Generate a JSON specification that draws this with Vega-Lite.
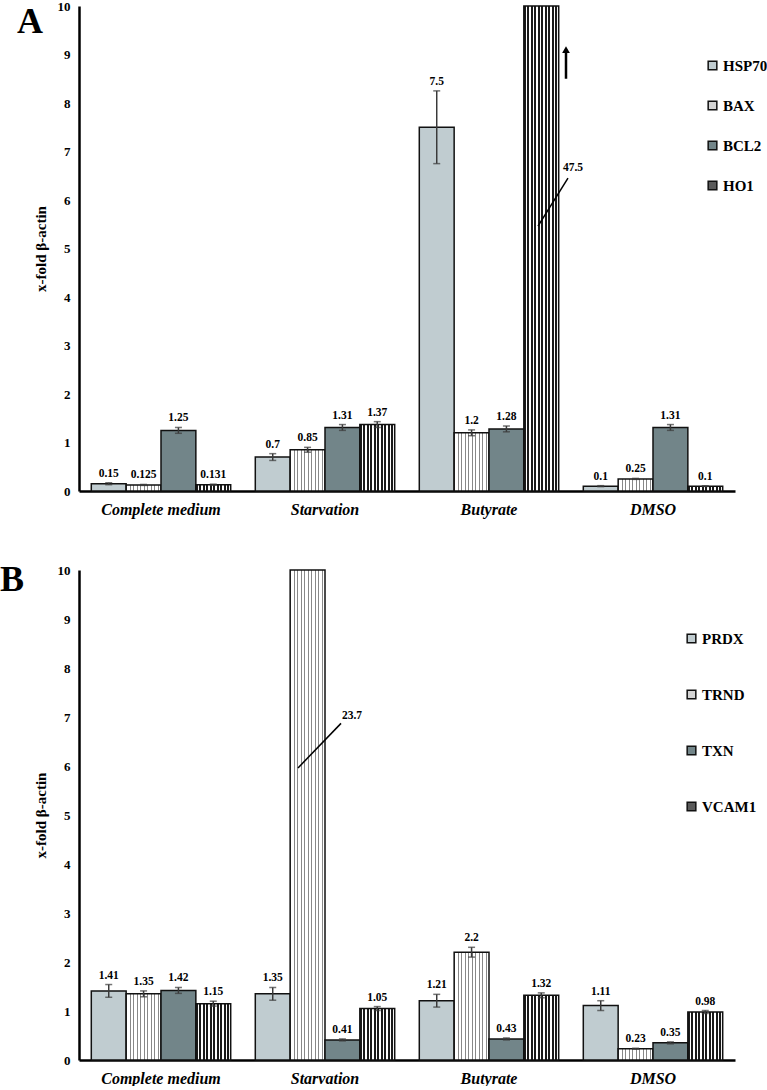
{
  "$schema": "https://vega.github.io/schema/vega-lite/v6.json",
  "background": "white",
  "padding": {"left": 0, "top": 0, "right": 0, "bottom": 0},
  "spacing": 45,
  "config": {
    "view": {"stroke": null},
    "font": "Liberation Serif",
    "axisX": {"title": null, "labelAngle": 0, "ticks": false, "grid": false, "domainColor": "#000", "domainWidth": 2.5, "labelFont": "Liberation Serif", "labelFontWeight": "bold", "labelFontStyle": "italic", "labelFontSize": 16, "labelColor": "#000", "labelPadding": 10},
    "axisY": {"values": [0,1,2,3,4,5,6,7,8,9,10], "ticks": false, "grid": false, "domainColor": "#000", "domainWidth": 2.5, "labelFont": "Liberation Serif", "labelFontWeight": "bold", "labelFontSize": 13, "labelColor": "#000", "labelPadding": 9, "titleFont": "Liberation Serif", "titleFontSize": 15, "titleFontWeight": "bold", "titleColor": "#000", "titlePadding": 9},
    "legend": {"orient": "none", "title": null, "symbolType": "square", "symbolSize": 75, "symbolStrokeColor": "#111", "symbolStrokeWidth": 1.5, "labelFont": "Liberation Serif", "labelFontWeight": "bold", "labelFontSize": 15, "labelColor": "#000", "labelOffset": 3},
    "title": {"anchor": "start", "frame": "group", "fontSize": 36, "font": "Liberation Serif", "fontWeight": "bold", "color": "#000", "offset": 0}
  },
  "resolve": {"scale": {"x": "independent", "y": "independent", "xOffset": "independent", "fill": "independent"}, "legend": {"fill": "independent"}},
  "datasets": {
    "barsA": [
      {"cat": "Complete medium", "gene": "HSP70", "val": 0.15, "lo": 0.13, "hi": 0.17, "lab": "0.15"},
      {"cat": "Complete medium", "gene": "BAX", "val": 0.125, "lo": 0.115, "hi": 0.135, "lab": "0.125"},
      {"cat": "Complete medium", "gene": "BCL2", "val": 1.25, "lo": 1.19, "hi": 1.31, "lab": "1.25"},
      {"cat": "Complete medium", "gene": "HO1", "val": 0.131, "lo": 0.121, "hi": 0.141, "lab": "0.131"},
      {"cat": "Starvation", "gene": "HSP70", "val": 0.7, "lo": 0.63, "hi": 0.77, "lab": "0.7"},
      {"cat": "Starvation", "gene": "BAX", "val": 0.85, "lo": 0.8, "hi": 0.9, "lab": "0.85"},
      {"cat": "Starvation", "gene": "BCL2", "val": 1.31, "lo": 1.25, "hi": 1.37, "lab": "1.31"},
      {"cat": "Starvation", "gene": "HO1", "val": 1.37, "lo": 1.31, "hi": 1.43, "lab": "1.37"},
      {"cat": "Butyrate", "gene": "HSP70", "val": 7.5, "lo": 6.75, "hi": 8.25, "lab": "7.5"},
      {"cat": "Butyrate", "gene": "BAX", "val": 1.2, "lo": 1.14, "hi": 1.26, "lab": "1.2"},
      {"cat": "Butyrate", "gene": "BCL2", "val": 1.28, "lo": 1.22, "hi": 1.34, "lab": "1.28"},
      {"cat": "Butyrate", "gene": "HO1", "val": 47.5, "lo": null, "hi": null, "lab": null},
      {"cat": "DMSO", "gene": "HSP70", "val": 0.1, "lo": 0.09, "hi": 0.11, "lab": "0.1"},
      {"cat": "DMSO", "gene": "BAX", "val": 0.25, "lo": 0.24, "hi": 0.26, "lab": "0.25"},
      {"cat": "DMSO", "gene": "BCL2", "val": 1.31, "lo": 1.25, "hi": 1.37, "lab": "1.31"},
      {"cat": "DMSO", "gene": "HO1", "val": 0.1, "lo": 0.095, "hi": 0.105, "lab": "0.1"}
    ],
    "annA": [
      {"cat": "Butyrate", "y1": 6.45, "y2": 5.46, "ty": 6.65, "lab": "47.5", "aLo": 8.5, "aHi": 9.1}
    ],
    "barsB": [
      {"cat": "Complete medium", "gene": "PRDX", "val": 1.41, "lo": 1.28, "hi": 1.54, "lab": "1.41"},
      {"cat": "Complete medium", "gene": "TRND", "val": 1.35, "lo": 1.29, "hi": 1.41, "lab": "1.35"},
      {"cat": "Complete medium", "gene": "TXN", "val": 1.42, "lo": 1.36, "hi": 1.48, "lab": "1.42"},
      {"cat": "Complete medium", "gene": "VCAM1", "val": 1.15, "lo": 1.1, "hi": 1.2, "lab": "1.15"},
      {"cat": "Starvation", "gene": "PRDX", "val": 1.35, "lo": 1.22, "hi": 1.48, "lab": "1.35"},
      {"cat": "Starvation", "gene": "TRND", "val": 23.7, "lo": null, "hi": null, "lab": null},
      {"cat": "Starvation", "gene": "TXN", "val": 0.41, "lo": 0.39, "hi": 0.43, "lab": "0.41"},
      {"cat": "Starvation", "gene": "VCAM1", "val": 1.05, "lo": 1.01, "hi": 1.09, "lab": "1.05"},
      {"cat": "Butyrate", "gene": "PRDX", "val": 1.21, "lo": 1.08, "hi": 1.34, "lab": "1.21"},
      {"cat": "Butyrate", "gene": "TRND", "val": 2.2, "lo": 2.1, "hi": 2.3, "lab": "2.2"},
      {"cat": "Butyrate", "gene": "TXN", "val": 0.43, "lo": 0.41, "hi": 0.45, "lab": "0.43"},
      {"cat": "Butyrate", "gene": "VCAM1", "val": 1.32, "lo": 1.27, "hi": 1.37, "lab": "1.32"},
      {"cat": "DMSO", "gene": "PRDX", "val": 1.11, "lo": 1.01, "hi": 1.21, "lab": "1.11"},
      {"cat": "DMSO", "gene": "TRND", "val": 0.23, "lo": 0.22, "hi": 0.24, "lab": "0.23"},
      {"cat": "DMSO", "gene": "TXN", "val": 0.35, "lo": 0.33, "hi": 0.37, "lab": "0.35"},
      {"cat": "DMSO", "gene": "VCAM1", "val": 0.98, "lo": 0.95, "hi": 1.01, "lab": "0.98"}
    ],
    "annB": [
      {"cat": "Starvation", "y1": 6.87, "y2": 5.96, "ty": 7.03, "lab": "23.7"}
    ]
  },
  "vconcat": [
    {
      "width": 656,
      "height": 485,
      "title": {"text": "A", "dx": -62, "dy": 45},
      "layer": [
        {
          "data": {"name": "barsA"},
          "mark": {"type": "bar", "stroke": "#111", "strokeWidth": 1.5},
          "encoding": {
            "x": {"field": "cat", "type": "nominal", "sort": ["Complete medium", "Starvation", "Butyrate", "DMSO"], "scale": {"paddingInner": 0.15, "paddingOuter": 0.075}},
            "xOffset": {"field": "gene", "type": "nominal", "sort": ["HSP70", "BAX", "BCL2", "HO1"], "scale": {"paddingInner": 0, "paddingOuter": 0}},
            "y": {"field": "val", "type": "quantitative", "scale": {"domain": [0, 10], "clamp": true, "nice": false, "zero": true}, "axis": {"title": "x-fold β-actin"}},
            "fill": {
              "condition": [
                {"test": "datum.gene === 'BAX'", "value": {"gradient": "linear", "x1": 0, "y1": 0, "x2": 1, "y2": 0, "stops": [
                  {"offset": 0, "color": "#888"}, {"offset": 0.03, "color": "#888"}, {"offset": 0.03, "color": "#fff"}, {"offset": 0.1, "color": "#fff"},
                  {"offset": 0.1, "color": "#888"}, {"offset": 0.13, "color": "#888"}, {"offset": 0.13, "color": "#fff"}, {"offset": 0.2, "color": "#fff"},
                  {"offset": 0.2, "color": "#888"}, {"offset": 0.23, "color": "#888"}, {"offset": 0.23, "color": "#fff"}, {"offset": 0.3, "color": "#fff"},
                  {"offset": 0.3, "color": "#888"}, {"offset": 0.33, "color": "#888"}, {"offset": 0.33, "color": "#fff"}, {"offset": 0.4, "color": "#fff"},
                  {"offset": 0.4, "color": "#888"}, {"offset": 0.43, "color": "#888"}, {"offset": 0.43, "color": "#fff"}, {"offset": 0.5, "color": "#fff"},
                  {"offset": 0.5, "color": "#888"}, {"offset": 0.53, "color": "#888"}, {"offset": 0.53, "color": "#fff"}, {"offset": 0.6, "color": "#fff"},
                  {"offset": 0.6, "color": "#888"}, {"offset": 0.63, "color": "#888"}, {"offset": 0.63, "color": "#fff"}, {"offset": 0.7, "color": "#fff"},
                  {"offset": 0.7, "color": "#888"}, {"offset": 0.73, "color": "#888"}, {"offset": 0.73, "color": "#fff"}, {"offset": 0.8, "color": "#fff"},
                  {"offset": 0.8, "color": "#888"}, {"offset": 0.83, "color": "#888"}, {"offset": 0.83, "color": "#fff"}, {"offset": 0.9, "color": "#fff"},
                  {"offset": 0.9, "color": "#888"}, {"offset": 0.93, "color": "#888"}, {"offset": 0.93, "color": "#fff"}, {"offset": 1, "color": "#fff"}
                ]}},
                {"test": "datum.gene === 'HO1'", "value": {"gradient": "linear", "x1": 0, "y1": 0, "x2": 1, "y2": 0, "stops": [
                  {"offset": 0, "color": "#1a1a1a"}, {"offset": 0.055, "color": "#1a1a1a"}, {"offset": 0.055, "color": "#fff"}, {"offset": 0.1, "color": "#fff"},
                  {"offset": 0.1, "color": "#1a1a1a"}, {"offset": 0.155, "color": "#1a1a1a"}, {"offset": 0.155, "color": "#fff"}, {"offset": 0.2, "color": "#fff"},
                  {"offset": 0.2, "color": "#1a1a1a"}, {"offset": 0.255, "color": "#1a1a1a"}, {"offset": 0.255, "color": "#fff"}, {"offset": 0.3, "color": "#fff"},
                  {"offset": 0.3, "color": "#1a1a1a"}, {"offset": 0.355, "color": "#1a1a1a"}, {"offset": 0.355, "color": "#fff"}, {"offset": 0.4, "color": "#fff"},
                  {"offset": 0.4, "color": "#1a1a1a"}, {"offset": 0.455, "color": "#1a1a1a"}, {"offset": 0.455, "color": "#fff"}, {"offset": 0.5, "color": "#fff"},
                  {"offset": 0.5, "color": "#1a1a1a"}, {"offset": 0.555, "color": "#1a1a1a"}, {"offset": 0.555, "color": "#fff"}, {"offset": 0.6, "color": "#fff"},
                  {"offset": 0.6, "color": "#1a1a1a"}, {"offset": 0.655, "color": "#1a1a1a"}, {"offset": 0.655, "color": "#fff"}, {"offset": 0.7, "color": "#fff"},
                  {"offset": 0.7, "color": "#1a1a1a"}, {"offset": 0.755, "color": "#1a1a1a"}, {"offset": 0.755, "color": "#fff"}, {"offset": 0.8, "color": "#fff"},
                  {"offset": 0.8, "color": "#1a1a1a"}, {"offset": 0.855, "color": "#1a1a1a"}, {"offset": 0.855, "color": "#fff"}, {"offset": 0.9, "color": "#fff"},
                  {"offset": 0.9, "color": "#1a1a1a"}, {"offset": 0.955, "color": "#1a1a1a"}, {"offset": 0.955, "color": "#fff"}, {"offset": 1, "color": "#fff"}
                ]}}
              ],
              "field": "gene", "type": "nominal",
              "scale": {"domain": ["HSP70", "BAX", "BCL2", "HO1"], "range": ["#c0ccd0", "#d4d4d4", "#728589", "#5a5a5a"]},
              "legend": {"legendX": 626, "legendY": 52, "rowPadding": 24}
            }
          }
        },
        {
          "data": {"name": "barsA"},
          "transform": [{"filter": "datum.lo != null"}],
          "mark": {"type": "rule", "color": "#3a3a3a", "strokeWidth": 1.5},
          "encoding": {
            "x": {"field": "cat", "type": "nominal", "sort": ["Complete medium", "Starvation", "Butyrate", "DMSO"]},
            "xOffset": {"field": "gene", "type": "nominal", "sort": ["HSP70", "BAX", "BCL2", "HO1"]},
            "y": {"field": "lo", "type": "quantitative"},
            "y2": {"field": "hi"}
          }
        },
        {
          "data": {"name": "barsA"},
          "transform": [{"filter": "datum.lo != null"}],
          "mark": {"type": "tick", "color": "#3a3a3a", "thickness": 1.5, "size": 7},
          "encoding": {
            "x": {"field": "cat", "type": "nominal", "sort": ["Complete medium", "Starvation", "Butyrate", "DMSO"]},
            "xOffset": {"field": "gene", "type": "nominal", "sort": ["HSP70", "BAX", "BCL2", "HO1"]},
            "y": {"field": "lo", "type": "quantitative"}
          }
        },
        {
          "data": {"name": "barsA"},
          "transform": [{"filter": "datum.lo != null"}],
          "mark": {"type": "tick", "color": "#3a3a3a", "thickness": 1.5, "size": 7},
          "encoding": {
            "x": {"field": "cat", "type": "nominal", "sort": ["Complete medium", "Starvation", "Butyrate", "DMSO"]},
            "xOffset": {"field": "gene", "type": "nominal", "sort": ["HSP70", "BAX", "BCL2", "HO1"]},
            "y": {"field": "hi", "type": "quantitative"}
          }
        },
        {
          "data": {"name": "barsA"},
          "transform": [{"filter": "datum.lab != null"}],
          "mark": {"type": "text", "baseline": "bottom", "dy": -4, "fontSize": 11.5, "fontWeight": "bold", "font": "Liberation Serif", "color": "#000"},
          "encoding": {
            "x": {"field": "cat", "type": "nominal", "sort": ["Complete medium", "Starvation", "Butyrate", "DMSO"]},
            "xOffset": {"field": "gene", "type": "nominal", "sort": ["HSP70", "BAX", "BCL2", "HO1"]},
            "y": {"field": "hi", "type": "quantitative"},
            "text": {"field": "lab"}
          }
        },
        {
          "data": {"name": "annA"},
          "mark": {"type": "rule", "color": "#000", "strokeWidth": 1.5, "xOffset": 79, "x2Offset": 49},
          "encoding": {
            "x": {"field": "cat", "type": "nominal", "sort": ["Complete medium", "Starvation", "Butyrate", "DMSO"]},
            "x2": {"field": "cat"},
            "y": {"field": "y1", "type": "quantitative"},
            "y2": {"field": "y2"}
          }
        },
        {
          "data": {"name": "annA"},
          "mark": {"type": "text", "dx": 84, "baseline": "middle", "fontSize": 11.5, "fontWeight": "bold", "font": "Liberation Serif", "color": "#000"},
          "encoding": {
            "x": {"field": "cat", "type": "nominal", "sort": ["Complete medium", "Starvation", "Butyrate", "DMSO"]},
            "y": {"field": "ty", "type": "quantitative"},
            "text": {"field": "lab"}
          }
        },
        {
          "data": {"name": "annA"},
          "mark": {"type": "rule", "color": "#000", "strokeWidth": 2.5, "xOffset": 77},
          "encoding": {
            "x": {"field": "cat", "type": "nominal", "sort": ["Complete medium", "Starvation", "Butyrate", "DMSO"]},
            "y": {"field": "aLo", "type": "quantitative"},
            "y2": {"field": "aHi"}
          }
        },
        {
          "data": {"name": "annA"},
          "mark": {"type": "point", "shape": "triangle-up", "filled": true, "color": "#000", "opacity": 1, "size": 60, "xOffset": 77},
          "encoding": {
            "x": {"field": "cat", "type": "nominal", "sort": ["Complete medium", "Starvation", "Butyrate", "DMSO"]},
            "y": {"field": "aHi", "type": "quantitative"}
          }
        }
      ]
    },
    {
      "width": 656,
      "height": 490,
      "title": {"text": "B", "dx": -79, "dy": 39},
      "layer": [
        {
          "data": {"name": "barsB"},
          "mark": {"type": "bar", "stroke": "#111", "strokeWidth": 1.5},
          "encoding": {
            "x": {"field": "cat", "type": "nominal", "sort": ["Complete medium", "Starvation", "Butyrate", "DMSO"], "scale": {"paddingInner": 0.15, "paddingOuter": 0.075}},
            "xOffset": {"field": "gene", "type": "nominal", "sort": ["PRDX", "TRND", "TXN", "VCAM1"], "scale": {"paddingInner": 0, "paddingOuter": 0}},
            "y": {"field": "val", "type": "quantitative", "scale": {"domain": [0, 10], "clamp": true, "nice": false, "zero": true}, "axis": {"title": "x-fold β-actin"}},
            "fill": {
              "condition": [
                {"test": "datum.gene === 'TRND'", "value": {"gradient": "linear", "x1": 0, "y1": 0, "x2": 1, "y2": 0, "stops": [
                  {"offset": 0, "color": "#888"}, {"offset": 0.03, "color": "#888"}, {"offset": 0.03, "color": "#fff"}, {"offset": 0.1, "color": "#fff"},
                  {"offset": 0.1, "color": "#888"}, {"offset": 0.13, "color": "#888"}, {"offset": 0.13, "color": "#fff"}, {"offset": 0.2, "color": "#fff"},
                  {"offset": 0.2, "color": "#888"}, {"offset": 0.23, "color": "#888"}, {"offset": 0.23, "color": "#fff"}, {"offset": 0.3, "color": "#fff"},
                  {"offset": 0.3, "color": "#888"}, {"offset": 0.33, "color": "#888"}, {"offset": 0.33, "color": "#fff"}, {"offset": 0.4, "color": "#fff"},
                  {"offset": 0.4, "color": "#888"}, {"offset": 0.43, "color": "#888"}, {"offset": 0.43, "color": "#fff"}, {"offset": 0.5, "color": "#fff"},
                  {"offset": 0.5, "color": "#888"}, {"offset": 0.53, "color": "#888"}, {"offset": 0.53, "color": "#fff"}, {"offset": 0.6, "color": "#fff"},
                  {"offset": 0.6, "color": "#888"}, {"offset": 0.63, "color": "#888"}, {"offset": 0.63, "color": "#fff"}, {"offset": 0.7, "color": "#fff"},
                  {"offset": 0.7, "color": "#888"}, {"offset": 0.73, "color": "#888"}, {"offset": 0.73, "color": "#fff"}, {"offset": 0.8, "color": "#fff"},
                  {"offset": 0.8, "color": "#888"}, {"offset": 0.83, "color": "#888"}, {"offset": 0.83, "color": "#fff"}, {"offset": 0.9, "color": "#fff"},
                  {"offset": 0.9, "color": "#888"}, {"offset": 0.93, "color": "#888"}, {"offset": 0.93, "color": "#fff"}, {"offset": 1, "color": "#fff"}
                ]}},
                {"test": "datum.gene === 'VCAM1'", "value": {"gradient": "linear", "x1": 0, "y1": 0, "x2": 1, "y2": 0, "stops": [
                  {"offset": 0, "color": "#1a1a1a"}, {"offset": 0.055, "color": "#1a1a1a"}, {"offset": 0.055, "color": "#fff"}, {"offset": 0.1, "color": "#fff"},
                  {"offset": 0.1, "color": "#1a1a1a"}, {"offset": 0.155, "color": "#1a1a1a"}, {"offset": 0.155, "color": "#fff"}, {"offset": 0.2, "color": "#fff"},
                  {"offset": 0.2, "color": "#1a1a1a"}, {"offset": 0.255, "color": "#1a1a1a"}, {"offset": 0.255, "color": "#fff"}, {"offset": 0.3, "color": "#fff"},
                  {"offset": 0.3, "color": "#1a1a1a"}, {"offset": 0.355, "color": "#1a1a1a"}, {"offset": 0.355, "color": "#fff"}, {"offset": 0.4, "color": "#fff"},
                  {"offset": 0.4, "color": "#1a1a1a"}, {"offset": 0.455, "color": "#1a1a1a"}, {"offset": 0.455, "color": "#fff"}, {"offset": 0.5, "color": "#fff"},
                  {"offset": 0.5, "color": "#1a1a1a"}, {"offset": 0.555, "color": "#1a1a1a"}, {"offset": 0.555, "color": "#fff"}, {"offset": 0.6, "color": "#fff"},
                  {"offset": 0.6, "color": "#1a1a1a"}, {"offset": 0.655, "color": "#1a1a1a"}, {"offset": 0.655, "color": "#fff"}, {"offset": 0.7, "color": "#fff"},
                  {"offset": 0.7, "color": "#1a1a1a"}, {"offset": 0.755, "color": "#1a1a1a"}, {"offset": 0.755, "color": "#fff"}, {"offset": 0.8, "color": "#fff"},
                  {"offset": 0.8, "color": "#1a1a1a"}, {"offset": 0.855, "color": "#1a1a1a"}, {"offset": 0.855, "color": "#fff"}, {"offset": 0.9, "color": "#fff"},
                  {"offset": 0.9, "color": "#1a1a1a"}, {"offset": 0.955, "color": "#1a1a1a"}, {"offset": 0.955, "color": "#fff"}, {"offset": 1, "color": "#fff"}
                ]}}
              ],
              "field": "gene", "type": "nominal",
              "scale": {"domain": ["PRDX", "TRND", "TXN", "VCAM1"], "range": ["#c0ccd0", "#d4d4d4", "#728589", "#5a5a5a"]},
              "legend": {"legendX": 605, "legendY": 61, "rowPadding": 40}
            }
          }
        },
        {
          "data": {"name": "barsB"},
          "transform": [{"filter": "datum.lo != null"}],
          "mark": {"type": "rule", "color": "#3a3a3a", "strokeWidth": 1.5},
          "encoding": {
            "x": {"field": "cat", "type": "nominal", "sort": ["Complete medium", "Starvation", "Butyrate", "DMSO"]},
            "xOffset": {"field": "gene", "type": "nominal", "sort": ["PRDX", "TRND", "TXN", "VCAM1"]},
            "y": {"field": "lo", "type": "quantitative"},
            "y2": {"field": "hi"}
          }
        },
        {
          "data": {"name": "barsB"},
          "transform": [{"filter": "datum.lo != null"}],
          "mark": {"type": "tick", "color": "#3a3a3a", "thickness": 1.5, "size": 7},
          "encoding": {
            "x": {"field": "cat", "type": "nominal", "sort": ["Complete medium", "Starvation", "Butyrate", "DMSO"]},
            "xOffset": {"field": "gene", "type": "nominal", "sort": ["PRDX", "TRND", "TXN", "VCAM1"]},
            "y": {"field": "lo", "type": "quantitative"}
          }
        },
        {
          "data": {"name": "barsB"},
          "transform": [{"filter": "datum.lo != null"}],
          "mark": {"type": "tick", "color": "#3a3a3a", "thickness": 1.5, "size": 7},
          "encoding": {
            "x": {"field": "cat", "type": "nominal", "sort": ["Complete medium", "Starvation", "Butyrate", "DMSO"]},
            "xOffset": {"field": "gene", "type": "nominal", "sort": ["PRDX", "TRND", "TXN", "VCAM1"]},
            "y": {"field": "hi", "type": "quantitative"}
          }
        },
        {
          "data": {"name": "barsB"},
          "transform": [{"filter": "datum.lab != null"}],
          "mark": {"type": "text", "baseline": "bottom", "dy": -4, "fontSize": 11.5, "fontWeight": "bold", "font": "Liberation Serif", "color": "#000"},
          "encoding": {
            "x": {"field": "cat", "type": "nominal", "sort": ["Complete medium", "Starvation", "Butyrate", "DMSO"]},
            "xOffset": {"field": "gene", "type": "nominal", "sort": ["PRDX", "TRND", "TXN", "VCAM1"]},
            "y": {"field": "hi", "type": "quantitative"},
            "text": {"field": "lab"}
          }
        },
        {
          "data": {"name": "annB"},
          "mark": {"type": "rule", "color": "#000", "strokeWidth": 1.5, "xOffset": 16, "x2Offset": -27},
          "encoding": {
            "x": {"field": "cat", "type": "nominal", "sort": ["Complete medium", "Starvation", "Butyrate", "DMSO"]},
            "x2": {"field": "cat"},
            "y": {"field": "y1", "type": "quantitative"},
            "y2": {"field": "y2"}
          }
        },
        {
          "data": {"name": "annB"},
          "mark": {"type": "text", "dx": 27, "baseline": "middle", "fontSize": 11.5, "fontWeight": "bold", "font": "Liberation Serif", "color": "#000"},
          "encoding": {
            "x": {"field": "cat", "type": "nominal", "sort": ["Complete medium", "Starvation", "Butyrate", "DMSO"]},
            "y": {"field": "ty", "type": "quantitative"},
            "text": {"field": "lab"}
          }
        }
      ]
    }
  ]
}
